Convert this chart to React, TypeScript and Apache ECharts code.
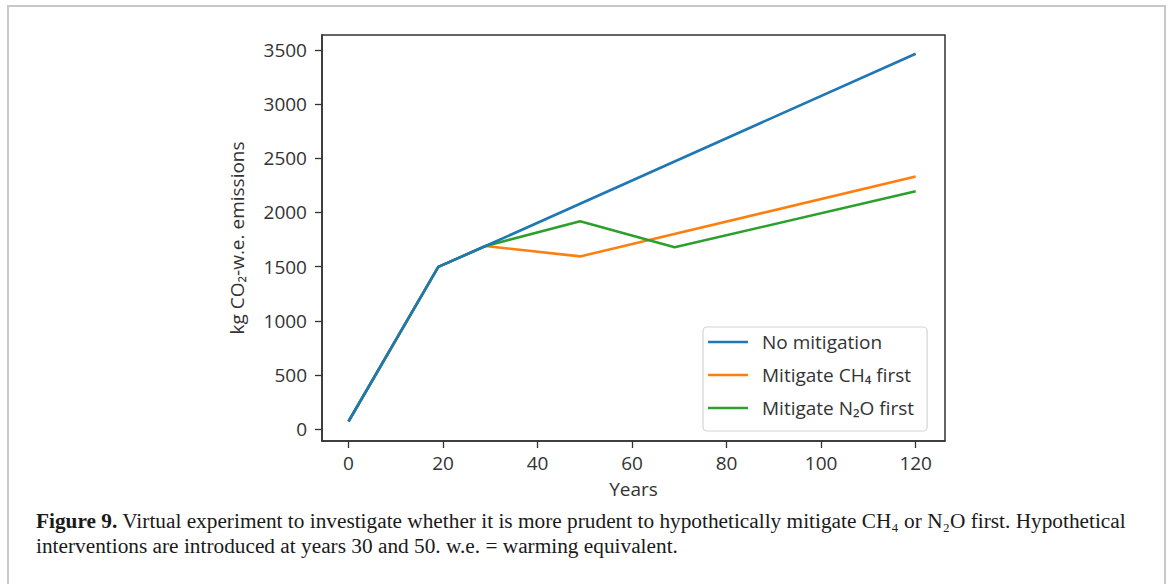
import React, { useEffect, useRef } from "react";
import * as echarts from "echarts";

const years = [0, 19, 29, 49, 69, 120];
const noMitigation = [70, 1497, 1690, null, null, 3465];
const mitigateCH4 = [70, 1497, 1690, 1594, null, 2332];
const mitigateN2O = [70, 1497, 1690, 1918, 1678, 2196];
const xTicks = [0, 20, 40, 60, 80, 100, 120];
const yTicks = [0, 500, 1000, 1500, 2000, 2500, 3000, 3500];
const seriesNames = ["No mitigation", "Mitigate CH₄ first", "Mitigate N₂O first"];
const colors = ["#1f77b4", "#ff7f0e", "#2ca02c"];

function pairs(vals: (number | null)[]) {
  const out: [number, number][] = [];
  vals.forEach((v, i) => {
    if (v !== null) out.push([years[i], v]);
  });
  return out;
}

const SANS = "'Open Sans', 'DejaVu Sans', sans-serif";
const SERIF = "'Liberation Serif', 'DejaVu Serif', serif";

export default function App() {
  const ref = useRef<HTMLDivElement>(null);
  useEffect(() => {
    document.body.style.margin = "0";
    const chart = echarts.init(ref.current!, null, { renderer: "svg" });
    const data = [noMitigation, mitigateCH4, mitigateN2O];
    chart.setOption({
      animation: false,
      backgroundColor: "#ffffff",
      grid: {
        left: 322,
        top: 35,
        width: 623,
        height: 406,
        show: true,
        borderColor: "#333333",
        borderWidth: 1.5,
        backgroundColor: "transparent",
      },
      xAxis: {
        type: "value",
        min: -5.6,
        max: 126.2,
        axisLine: { show: true, onZero: false, lineStyle: { color: "#333333", width: 1.5 } },
        axisTick: { show: true, length: 7, inside: false, customValues: xTicks, lineStyle: { color: "#333333", width: 1.3 } },
        axisLabel: { customValues: xTicks, margin: 12, color: "#333333", fontSize: 19, fontFamily: SANS, formatter: (v: number) => String(v) },
        splitLine: { show: false },
        name: "Years",
        nameLocation: "middle",
        nameGap: 38,
        nameTextStyle: { color: "#333333", fontSize: 19, fontFamily: SANS },
      },
      yAxis: {
        type: "value",
        min: -110,
        max: 3638,
        axisLine: { show: true, onZero: false, lineStyle: { color: "#333333", width: 1.5 } },
        axisTick: { show: true, length: 7, inside: false, customValues: yTicks, lineStyle: { color: "#333333", width: 1.3 } },
        axisLabel: { customValues: yTicks, margin: 15, color: "#333333", fontSize: 19, fontFamily: SANS, formatter: (v: number) => String(v) },
        splitLine: { show: false },
        name: "kg CO₂-w.e. emissions",
        nameLocation: "middle",
        nameGap: 76,
        nameTextStyle: { color: "#333333", fontSize: 19, fontFamily: SANS },
      },
      legend: {
        orient: "vertical",
        left: 703,
        top: 327,
        padding: [4, 13, 12, 5],
        itemGap: 11,
        itemWidth: 40,
        itemHeight: 2.5,
        icon: "rect",
        backgroundColor: "#ffffff",
        borderColor: "#d4d4d4",
        borderWidth: 1.2,
        borderRadius: 4,
        data: seriesNames,
        textStyle: { color: "#333333", fontSize: 19, fontFamily: SANS, lineHeight: 22, padding: [0, 0, 0, 9] },
      },
      series: seriesNames.map((name, i) => ({
        name,
        type: "line",
        data: pairs(data[i]),
        showSymbol: false,
        symbol: "none",
        z: i === 0 ? 5 : 3 + i * 0.1,
        lineStyle: { color: colors[i], width: 2.6 },
        itemStyle: { color: colors[i] },
      })),
      graphic: [
        {
          type: "rect",
          shape: { x: 8, y: 6, width: 1157, height: 600 },
          style: { fill: "none", stroke: "#c8c8c8", lineWidth: 2 },
          silent: true,
        },
        {
          type: "text",
          x: 36,
          y: 509,
          scaleX: 1.066,
          style: {
            text: "{b|Figure 9.} Virtual experiment to investigate whether it is more prudent to hypothetically mitigate CH₄ or N₂O first. Hypothetical\ninterventions are introduced at years 30 and 50. w.e. = warming equivalent.",
            fontFamily: SERIF,
            fontSize: 20,
            lineHeight: 25,
            fill: "#1a1a1a",
            rich: {
              b: { fontFamily: SERIF, fontSize: 20, fontWeight: "bold", fill: "#1a1a1a", lineHeight: 25 },
            },
          },
        },
      ],
    });
    return () => chart.dispose();
  }, []);
  return <div ref={ref} style={{ width: 1171, height: 584 }} />;
}
